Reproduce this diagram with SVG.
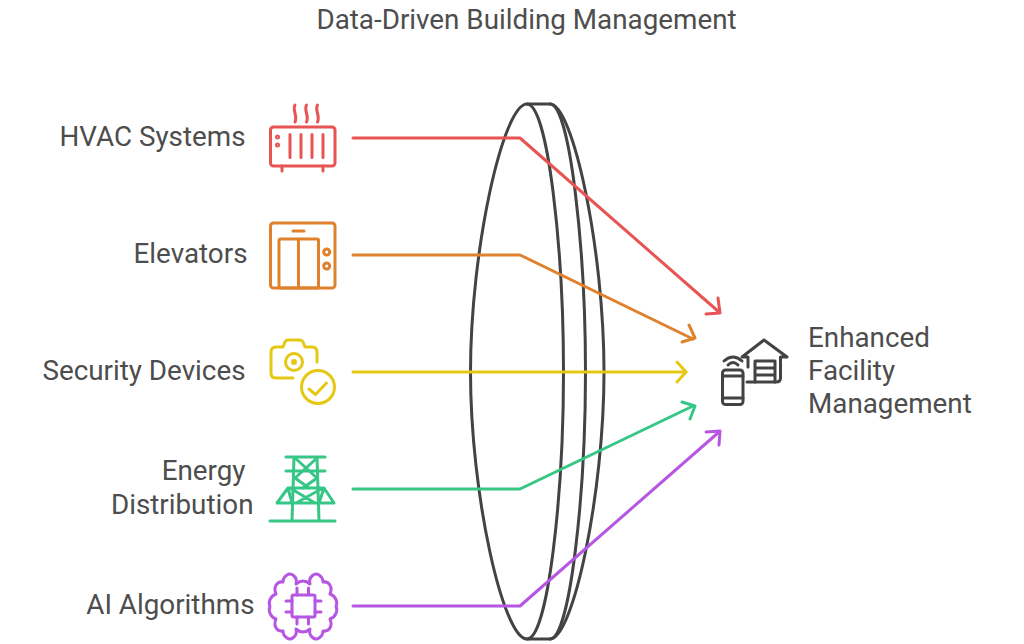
<svg xmlns="http://www.w3.org/2000/svg" width="1024" height="644" viewBox="0 0 1024 644">
<style>
text{font-family:"Roboto","Liberation Sans",sans-serif;font-size:27.800px;fill:#4d4d4d}
.i{fill:none;stroke-width:3;stroke-linecap:round;stroke-linejoin:round}
.c{fill:none;stroke-width:3;stroke-linecap:round;stroke-linejoin:round}
.r{stroke:#e85353}.o{stroke:#e0812e}.y{stroke:#e5c813}.g{stroke:#36c787}.p{stroke:#b656e2}.k{stroke:#434343}
</style>
<rect width="1024" height="644" fill="#fff"/>
<text x="526.500" y="29" text-anchor="middle">Data-Driven Building Management</text>
<g id="lens" class="i k">
<path d="M527 104C503 104 470.500 250 470.500 372C470.500 494 503 639 527 639C548 639 563.500 494 563.500 372C563.500 250 548 104 527 104Z"/>
<path d="M527 104H550C573 104 604 250 604 372C604 494 573 639 550 639H527"/>
<path d="M550 104C570 104 585.500 250 585.500 372C585.500 494 570 639 550 639"/>
</g>
<g id="connectors">
<path class="c r" d="M353 138H520L719 312"/><path class="c r" d="M718 298L720 313L706 314"/>
<path class="c o" d="M353 255H520L693 339"/><path class="c o" d="M689 325L695 338L682 342"/>
<path class="c y" d="M353 372H686"/><path class="c y" d="M677 362L686 372L677 382"/>
<path class="c g" d="M353 489H520L693 406"/><path class="c g" d="M682 402L695 406L690 419"/>
<path class="c p" d="M353 606H520L719 432"/><path class="c p" d="M706 432L720 431L719 445"/>
</g>
<g id="hvac">
<text x="245.500" y="146" text-anchor="end">HVAC Systems</text>
<g class="i r">
<rect x="270.500" y="127" width="64.500" height="39" rx="3"/>
<path d="M290 134.500V157.500M301 134.500V157.500M312 134.500V157.500M323 134.500V157.500M282 166V171M323 166V171"/>
<path d="M295 105C292 110 298 116 295 122M306.500 105C303.500 110 309.500 116 306.500 122M317.500 105C314.500 110 320.500 116 317.500 122"/>
<circle cx="277.500" cy="137" r="1"/><circle cx="277.500" cy="145" r="1"/>
</g></g>
<g id="elevators">
<text x="247.500" y="263" text-anchor="end">Elevators</text>
<g class="i o">
<rect x="270.500" y="223" width="64.500" height="65" rx="3"/>
<rect x="279" y="239" width="39.500" height="49" rx="1.500"/>
<path d="M298.500 239V288M293 231H304"/>
<circle cx="326.700" cy="252" r="3"/><circle cx="326.700" cy="266" r="3"/>
</g></g>
<g id="security">
<text x="245.500" y="380" text-anchor="end">Security Devices</text>
<g class="i y">
<path d="M317 362V352Q317 347 312 347H305L303 342Q302 340 300 340H288Q286 340 285 342L283 347H276Q271 347 271 352V373Q271 378 276 378H293"/>
<circle cx="294" cy="362" r="8.500"/><circle cx="294" cy="362" r="1.500"/>
<circle cx="318" cy="387" r="16.500"/><path d="M309 389L315.500 394.500L326.500 383"/>
</g></g>
<g id="energy">
<text x="245.500" y="480" text-anchor="end">Energy</text>
<text x="253.500" y="513.500" text-anchor="end">Distribution</text>
<g class="i g">
<path d="M286 457H325M286 471H325M270 521H335M294 457L292 521M317 457L319 521"/>
<path d="M295 458L317 478L303 488M317 458L295 478L309 488"/>
<path d="M288 488H324L334 503H277ZM290 488L315 503M323 488L296 503M288 488L292 503M324 488L319 503"/>
</g></g>
<g id="ai">
<text x="254.500" y="614" text-anchor="end">AI Algorithms</text>
<g class="i p">
<path d="M296 584C298 577 291 572 287 575C284 577 283 579 283 582C277 581 273 587 276 594C270 596 268 603 270 606.500C268 610 270 617 276 619C273 626 277 632 283 631C283 634 284 636 287 638C291 641 298 636 296 629Q303 635 310 629C308 636 315 641 319 638C322 636 323 634 323 631C329 632 333 626 330 619C336 617 338 610 336 606.500C338 603 336 596 330 594C333 587 329 581 323 582C323 579 322 577 319 575C315 572 308 577 310 584Q303 578 296 584Z"/>
<rect x="292" y="595" width="23" height="22" rx="1.500"/>
<path d="M297 588V595M308.500 588V595M297 617V624M308.500 617V624M286 601H292M286 612H292M315 601H321M315 612H321"/>
</g></g>
<g id="facility">
<text x="808" y="347">Enhanced</text><text x="808" y="380">Facility</text><text x="808" y="413">Management</text>
<g class="i k">
<rect x="722.500" y="370" width="20.500" height="34.500" rx="3"/><path d="M723 376H743M723 398H743"/>
<path d="M728 365Q733 360 738 365M724 361Q733 353 742 361"/>
<path d="M748 367V357H742L764 340L787 357H780.500V378Q780.500 382 776 382H747"/>
<path d="M755 382V361H775V382M755 368H775M755 375H775"/>
</g></g>
</svg>
